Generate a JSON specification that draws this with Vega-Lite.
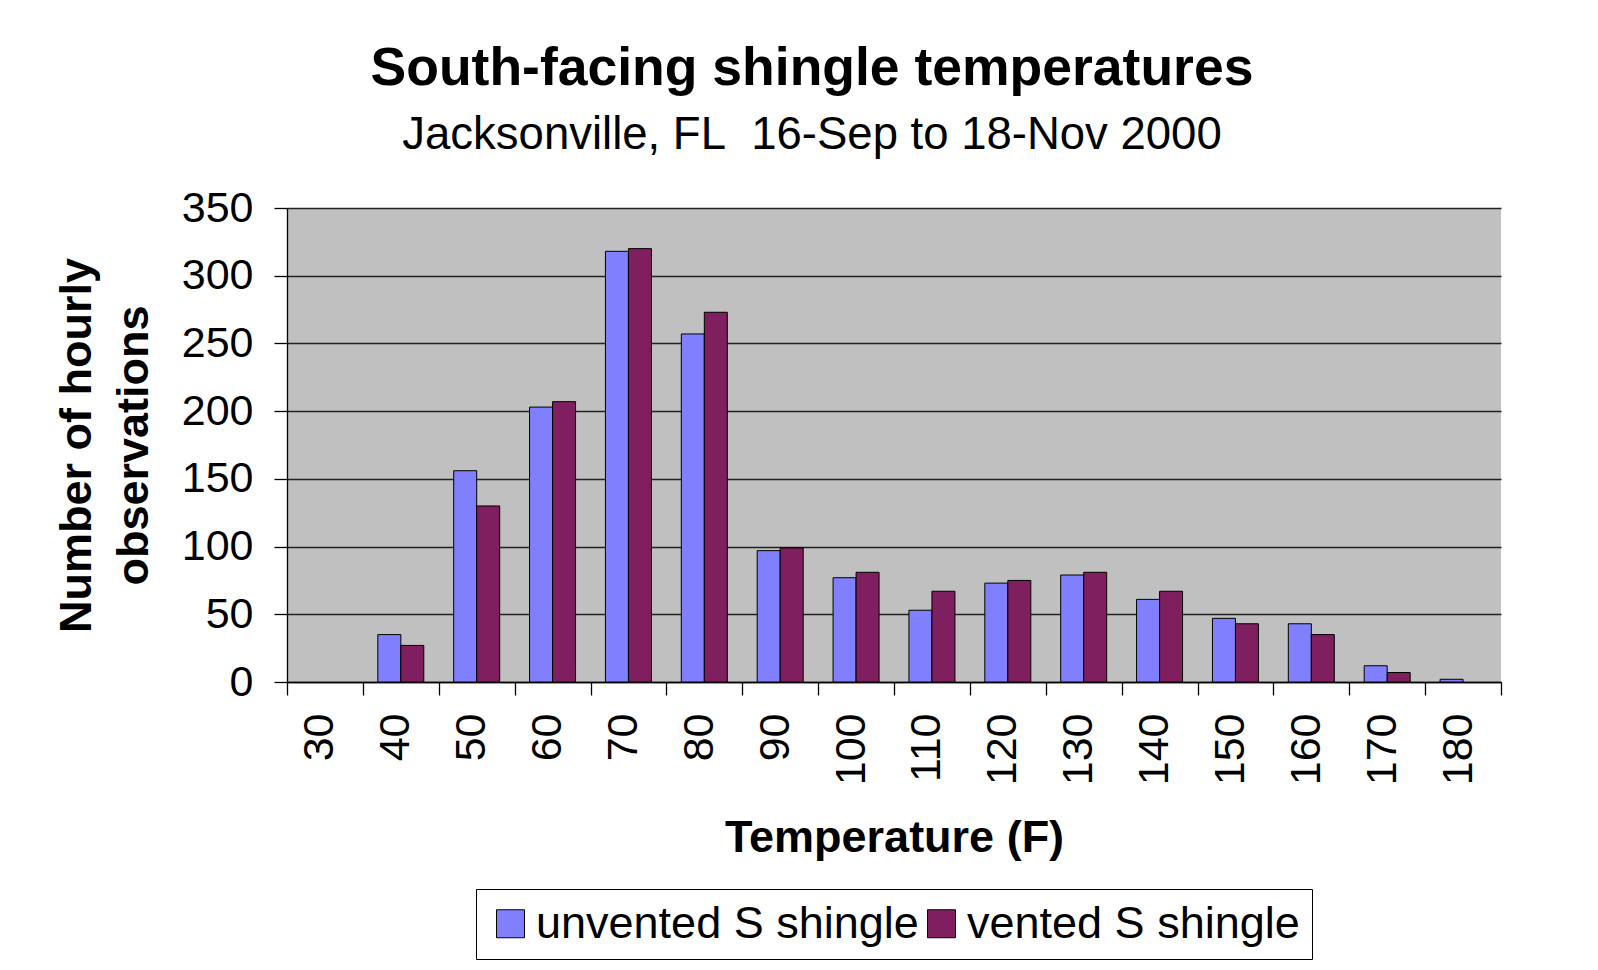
{
  "$schema": "https://vega.github.io/schema/vega-lite/v6.json",
  "width": 1214,
  "height": 474,
  "autosize": {"type": "none"},
  "padding": {"left": 287, "top": 208, "right": 97, "bottom": 288},
  "background": "white",
  "title": {
    "text": "South-facing shingle temperatures",
    "subtitle": "Jacksonville, FL\u00a0\u00a016-Sep to 18-Nov 2000",
    "font": "Liberation Sans",
    "fontSize": 53.5,
    "fontWeight": "bold",
    "color": "black",
    "subtitleFont": "Liberation Sans",
    "subtitleFontSize": 45.5,
    "subtitleColor": "black",
    "subtitlePadding": 16,
    "anchor": "middle",
    "frame": "group",
    "dx": -82,
    "offset": 28
  },
  "data": {
    "values": [
      {"temp": 30, "series": "unvented S shingle", "count": 0},
      {"temp": 30, "series": "vented S shingle", "count": 0},
      {"temp": 40, "series": "unvented S shingle", "count": 35},
      {"temp": 40, "series": "vented S shingle", "count": 27},
      {"temp": 50, "series": "unvented S shingle", "count": 156},
      {"temp": 50, "series": "vented S shingle", "count": 130},
      {"temp": 60, "series": "unvented S shingle", "count": 203},
      {"temp": 60, "series": "vented S shingle", "count": 207},
      {"temp": 70, "series": "unvented S shingle", "count": 318},
      {"temp": 70, "series": "vented S shingle", "count": 320},
      {"temp": 80, "series": "unvented S shingle", "count": 257},
      {"temp": 80, "series": "vented S shingle", "count": 273},
      {"temp": 90, "series": "unvented S shingle", "count": 97},
      {"temp": 90, "series": "vented S shingle", "count": 99},
      {"temp": 100, "series": "unvented S shingle", "count": 77},
      {"temp": 100, "series": "vented S shingle", "count": 81},
      {"temp": 110, "series": "unvented S shingle", "count": 53},
      {"temp": 110, "series": "vented S shingle", "count": 67},
      {"temp": 120, "series": "unvented S shingle", "count": 73},
      {"temp": 120, "series": "vented S shingle", "count": 75},
      {"temp": 130, "series": "unvented S shingle", "count": 79},
      {"temp": 130, "series": "vented S shingle", "count": 81},
      {"temp": 140, "series": "unvented S shingle", "count": 61},
      {"temp": 140, "series": "vented S shingle", "count": 67},
      {"temp": 150, "series": "unvented S shingle", "count": 47},
      {"temp": 150, "series": "vented S shingle", "count": 43},
      {"temp": 160, "series": "unvented S shingle", "count": 43},
      {"temp": 160, "series": "vented S shingle", "count": 35},
      {"temp": 170, "series": "unvented S shingle", "count": 12},
      {"temp": 170, "series": "vented S shingle", "count": 7},
      {"temp": 180, "series": "unvented S shingle", "count": 2},
      {"temp": 180, "series": "vented S shingle", "count": 0}
    ]
  },
  "transform": [{"filter": "datum.count > 0"}],
  "mark": {"type": "bar", "stroke": "black", "strokeWidth": 1},
  "encoding": {
    "x": {
      "field": "temp",
      "type": "ordinal",
      "scale": {"domain": [30, 40, 50, 60, 70, 80, 90, 100, 110, 120, 130, 140, 150, 160, 170, 180], "paddingInner": 0, "paddingOuter": 0},
      "axis": {
        "title": "Temperature (F)",
        "titleFont": "Liberation Sans",
        "titleFontSize": 45,
        "titleFontWeight": "bold",
        "titleColor": "black",
        "titlePadding": 31,
        "labelAngle": 270,
        "labelFont": "Liberation Sans",
        "labelFontSize": 43,
        "labelColor": "black",
        "labelPadding": 18,
        "labelOffset": -5,
        "tickBand": "extent",
        "tickSize": 13,
        "tickColor": "black",
        "domainColor": "black",
        "grid": false
      }
    },
    "xOffset": {
      "field": "series",
      "type": "nominal",
      "scale": {"domain": ["unvented S shingle", "vented S shingle"], "paddingInner": 0, "paddingOuter": 0.65}
    },
    "y": {
      "field": "count",
      "type": "quantitative",
      "scale": {"domain": [0, 350], "nice": false},
      "axis": {
        "title": ["Number of hourly", "observations"],
        "titleFont": "Liberation Sans",
        "titleFontSize": 45,
        "titleFontWeight": "bold",
        "titleColor": "black",
        "titleLineHeight": 57,
        "titlePadding": 25,
        "values": [0, 50, 100, 150, 200, 250, 300, 350],
        "labelFont": "Liberation Sans",
        "labelFontSize": 43,
        "labelColor": "black",
        "labelPadding": 21,
        "tickSize": 13,
        "tickColor": "black",
        "domainColor": "black",
        "grid": true,
        "gridColor": "#222222",
        "gridWidth": 1.3
      }
    },
    "color": {
      "field": "series",
      "type": "nominal",
      "scale": {"domain": ["unvented S shingle", "vented S shingle"], "range": ["#8080FF", "#801F5F"]},
      "legend": {
        "title": null,
        "orient": "none",
        "legendX": 189,
        "legendY": 681,
        "direction": "horizontal",
        "symbolType": "square",
        "symbolSize": 784,
        "symbolStrokeColor": "black",
        "symbolStrokeWidth": 1,
        "symbolOpacity": 1,
        "labelFont": "Liberation Sans",
        "labelFontSize": 45,
        "labelColor": "black",
        "labelOffset": 3,
        "labelLimit": 0,
        "columnPadding": -14,
        "padding": 12,
        "strokeColor": "black",
        "fillColor": "white"
      }
    }
  },
  "config": {
    "view": {"fill": "#C0C0C0", "stroke": null},
    "axis": {"domainWidth": 1.3, "tickWidth": 1.3}
  }
}
